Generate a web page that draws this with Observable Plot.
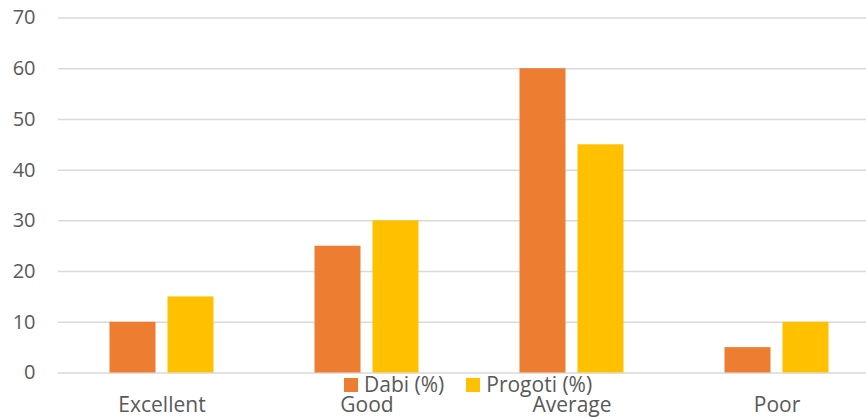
<!DOCTYPE html>
<html>
<head>
<meta charset="utf-8">
<script src="https://cdn.jsdelivr.net/npm/d3@7"></script>
<script src="https://cdn.jsdelivr.net/npm/@observablehq/plot@0.6"></script>
<style>
  html, body { margin: 0; padding: 0; background: #fff; }
  #chart { position: relative; width: 866px; height: 417px; font-family: "Open Sans", sans-serif; }
  #legend { position: absolute; left: 344px; top: 374px; display: flex; align-items: center; gap: 22px;
            font-size: 21px; line-height: 21px; color: #595959; }
  .item { display: flex; align-items: center; gap: 6px; }
  .swatch { width: 14px; height: 14px; }
</style>
</head>
<body>
<div id="chart"></div>
<script>
// Ratings per category, in percent
const categories = ["Excellent", "Good", "Average", "Poor"];
const series = ["Dabi (%)", "Progoti (%)"];
const dabi = [10, 25, 60, 5];
const progoti = [15, 30, 45, 10];
const yTicks = [0, 10, 20, 30, 40, 50, 60, 70];
const colors = ["#ED7D31", "#FFC000"];

const dabiRows = categories.map((c, i) => ({category: c, series: series[0], value: dabi[i]}));
const progotiRows = categories.map((c, i) => ({category: c, series: series[1], value: progoti[i]}));

const text = "#595959";

const chart = Plot.plot({
  width: 866,
  height: 417,
  marginLeft: 58,
  marginRight: 0,
  marginTop: 17.5,
  marginBottom: 44.5,
  style: {fontFamily: "'Open Sans', sans-serif", fontSize: "20px", color: text, background: "#fff"},
  x: {domain: categories, range: [58.5, 878.5], padding: 0},
  y: {domain: [0, 70]},
  color: {domain: series, range: colors},
  marks: [
    Plot.gridY(yTicks, {stroke: "#d9d9d9", strokeOpacity: 1, strokeWidth: 1.5}),
    Plot.barY(dabiRows, {x: "category", y: "value", fill: "series", insetLeft: 50.5, insetRight: 108.5}),
    Plot.barY(progotiRows, {x: "category", y: "value", fill: "series", insetLeft: 108.5, insetRight: 50.5}),
    Plot.axisY(yTicks, {tickSize: 0, tickPadding: 23, fill: text, label: null}),
    Plot.axisX({tickSize: 0, tickPadding: 23.6, fill: text, fontSize: 21, label: null})
  ]
});

const root = document.getElementById("chart");
root.appendChild(chart);

// Series key laid over the bottom of the chart
const legend = document.createElement("div");
legend.id = "legend";
series.forEach((s, i) => {
  const item = document.createElement("div");
  item.className = "item";
  const sw = document.createElement("div");
  sw.className = "swatch";
  sw.style.background = colors[i];
  const label = document.createElement("span");
  label.textContent = s;
  item.append(sw, label);
  legend.appendChild(item);
});
root.appendChild(legend);
</script>
</body>
</html>
